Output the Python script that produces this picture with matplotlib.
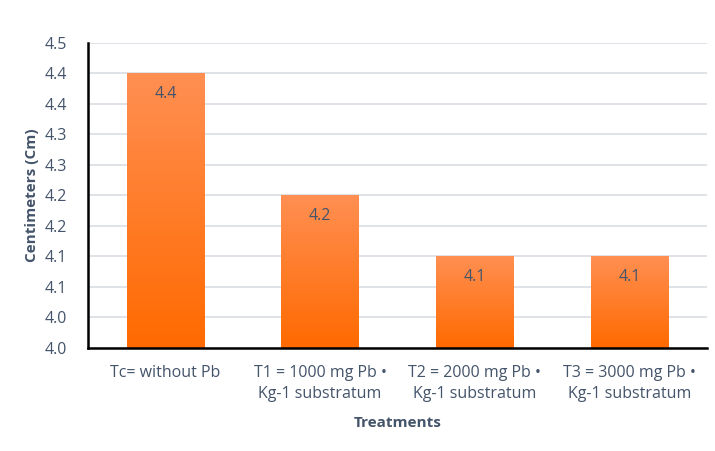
import numpy as np
import matplotlib
matplotlib.use("Agg")
import matplotlib.pyplot as plt
from matplotlib.colors import LinearSegmentedColormap

# Data
treatments = [
    "Tc= without Pb",
    "T1 = 1000 mg Pb \u2022\nKg-1 substratum",
    "T2 = 2000 mg Pb \u2022\nKg-1 substratum",
    "T3 = 3000 mg Pb \u2022\nKg-1 substratum",
]
heights = [4.45, 4.25, 4.15, 4.15]
value_labels = ["4.4", "4.2", "4.1", "4.1"]
y_ticks = [4.0, 4.05, 4.1, 4.15, 4.2, 4.25, 4.3, 4.35, 4.4, 4.45, 4.5]
y_tick_labels = ["4.0", "4.0", "4.1", "4.1", "4.2", "4.2", "4.3", "4.3", "4.4", "4.4", "4.5"]

plt.rcParams["font.family"] = ["Open Sans", "DejaVu Sans"]
text_color = "#44546A"

fig = plt.figure(figsize=(7.15, 4.51), dpi=100)
ax = fig.add_axes([0.123, 0.2284, 0.866, 0.6763])

x = np.arange(len(treatments))
bar_width = 0.5
y_min = 4.0

# Gradient: lighter orange at top, darker at bottom
cmap = LinearSegmentedColormap.from_list("orange_grad", ["#FF6A00", "#FF8F52"])
grad = np.linspace(0, 1, 256).reshape(-1, 1)

bars = ax.bar(x, [h - y_min for h in heights], bottom=y_min, width=bar_width,
              color="none", edgecolor="none", zorder=2)
for bar in bars:
    x0 = bar.get_x()
    x1 = x0 + bar.get_width()
    y0 = bar.get_y()
    y1 = y0 + bar.get_height()
    im = ax.imshow(grad, cmap=cmap, aspect="auto", origin="lower",
                   extent=[x0, x1, y0, y1], zorder=2)
    im.set_clip_path(bar)

for xi, h, lab in zip(x, heights, value_labels):
    ax.text(xi, h - 0.033, lab, ha="center", va="center", fontsize=11.5,
            color=text_color, zorder=3)

ax.set_xlim(-0.5, 3.5)
ax.set_ylim(4.0, 4.5)
ax.set_yticks(y_ticks)
ax.set_yticklabels(y_tick_labels)
ax.set_xticks(x)
ax.set_xticklabels(treatments, linespacing=1.45)
ax.tick_params(axis="both", length=0, labelsize=11.5, colors=text_color)
ax.tick_params(axis="x", pad=12)
ax.tick_params(axis="y", pad=15)

ax.yaxis.grid(True, color="#D9DDE3", linewidth=1.2, zorder=0)
ax.set_axisbelow(True)

for side in ["top", "right"]:
    ax.spines[side].set_visible(False)
ax.spines["left"].set_linewidth(1.8)
ax.spines["bottom"].set_linewidth(1.8)
ax.spines["left"].set_color("black")
ax.spines["bottom"].set_color("black")

ax.set_xlabel("Treatments", fontsize=11, fontweight="bold", color=text_color, labelpad=10)
ax.set_ylabel("Centimeters (Cm)", fontsize=11, fontweight="bold", color=text_color, labelpad=4)

fig.savefig("out.png", dpi=100)
